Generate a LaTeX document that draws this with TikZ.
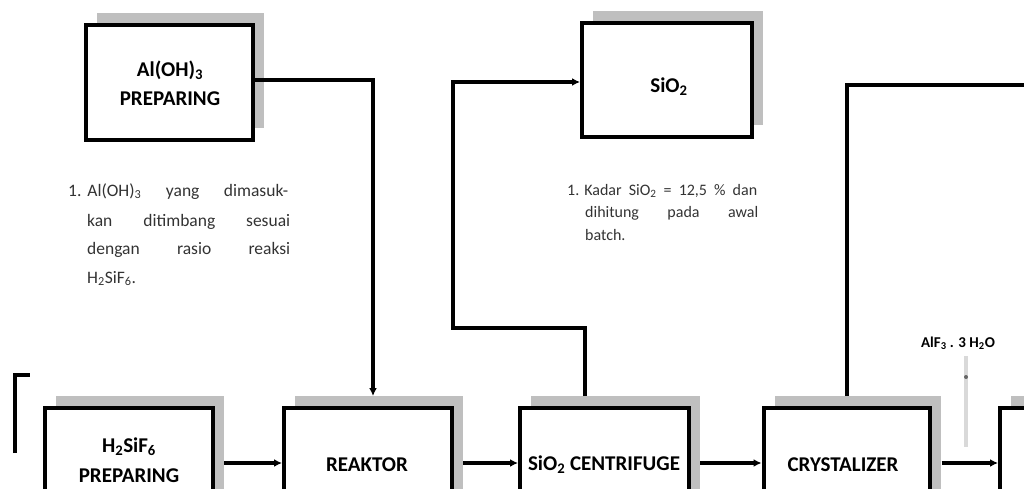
\documentclass[tikz,border=0pt]{standalone}
\usepackage{fontspec}
\setmainfont{Carlito}
\usetikzlibrary{arrows.meta,shadows}
\begin{document}
\begin{tikzpicture}[x=1pt,y=-1pt,
  procbox/.style={draw=black, line width=4pt, fill=white, rectangle, inner sep=0pt,
    drop shadow={shadow xshift=11pt, shadow yshift=12pt, fill=black!25, opacity=1}},
  boxtext/.style={font=\fontsize{21}{23}\selectfont\bfseries, inner sep=0pt},
  notetext/.style={font=\fontsize{17.5}{19}\selectfont, text=black!80, inner sep=0pt, anchor=base west},
  notetextb/.style={font=\fontsize{16}{18}\selectfont, text=black!80, inner sep=0pt, anchor=base west},
  flow/.style={line width=3.4pt, -{Latex[length=8pt,width=8pt]}},
  plain/.style={line width=3.4pt}]
\useasboundingbox (0,0) rectangle (1024,489);
\clip (0,0) rectangle (1024,489);

% boxes
\node[procbox, minimum width=167pt, minimum height=115pt] (aloh) at (169.5,82.5) {};
\node[procbox, minimum width=170pt, minimum height=114pt] (sio) at (667,80) {};
\node[procbox, minimum width=168pt, minimum height=120pt] (hsif) at (129,468) {};
\node[procbox, minimum width=168pt, minimum height=120pt] (reak) at (368,468) {};
\node[procbox, minimum width=169pt, minimum height=120pt] (cent) at (604.5,468) {};
\node[procbox, minimum width=166pt, minimum height=120pt] (cryst) at (846.5,468) {};
\node[procbox, minimum width=168pt, minimum height=120pt] (nextb) at (1084,468) {};

% box texts
\node[boxtext] (t1) at (170,70) {Al(OH)\textsubscript{3}};
\node[boxtext] (t2) at (170,99) {PREPARING};
\node[boxtext] (t3) at (669,87) {SiO\textsubscript{2}};
\node[boxtext] (t4) at (129,447) {H\textsubscript{2}SiF\textsubscript{6}};
\node[boxtext] (t5) at (129,476) {PREPARING};
\node[boxtext] (t6) at (367,465) {REAKTOR};
\node[boxtext] (t7) at (604,465) {SiO\textsubscript{2} CENTRIFUGE};
\node[boxtext] (t8) at (843,465) {CRYSTALIZER};

% notes
\node[notetext] (n1) at (68,196) {\makebox[220pt][s]{1.\hspace{6pt}Al(OH)\textsubscript{3} yang dimasuk-}};
\node[notetext] (n2) at (87,226) {\makebox[203pt][s]{kan ditimbang sesuai}};
\node[notetext] (n3) at (87,254) {\makebox[203pt][s]{dengan rasio reaksi}};
\node[notetext] (n4) at (87,283) {H\textsubscript{2}SiF\textsubscript{6}.};
\node[notetextb] (m1) at (567,195) {\makebox[190pt][s]{1.\hspace{5pt}Kadar SiO\textsubscript{2} = 12,5 \% dan}};
\node[notetextb] (m2) at (585,217) {\makebox[173pt][s]{dihitung pada awal}};
\node[notetextb] (m3) at (585,240) {batch.};

% AlF3 label
\node[font=\fontsize{15}{17}\selectfont\bfseries, inner sep=0pt] (alf) at (958,343) {AlF\textsubscript{3} . 3 H\textsubscript{2}O};

% connectors between bottom boxes
\draw[flow] ([xshift=9pt]hsif.east |- 0,463) -- (reak.west |- 0,463);
\draw[flow] ([xshift=9pt]reak.east |- 0,463) -- (cent.west |- 0,463);
\draw[flow] ([xshift=9pt]cent.east |- 0,463) -- (cryst.west |- 0,463);
\draw[flow] ([xshift=10pt]cryst.east |- 0,463) -- (nextb.west |- 0,463);

% Al(OH)3 to reaktor
\draw[flow] (aloh.east |- 0,80) -- (373,80) -- (373,396);

% centrifuge to SiO2
\draw[flow] (585,396) -- (585,328) -- (453,328) -- (453,82) -- (sio.west |- 0,82);

% crystalizer up and right
\coordinate (outr) at (1030,85);
\draw[plain] (847,396) -- (847,85) -- (outr);

% faint line below AlF3
\draw[line width=4pt, black!15] (966,356) -- (966,447);
\fill[black!60] (966,377) circle (2pt);

% left edge fragment
\coordinate (le1) at (15,453);
\coordinate (le2) at (30,375);
\draw[plain] (le1) |- (le2);
\end{tikzpicture}
\end{document}
